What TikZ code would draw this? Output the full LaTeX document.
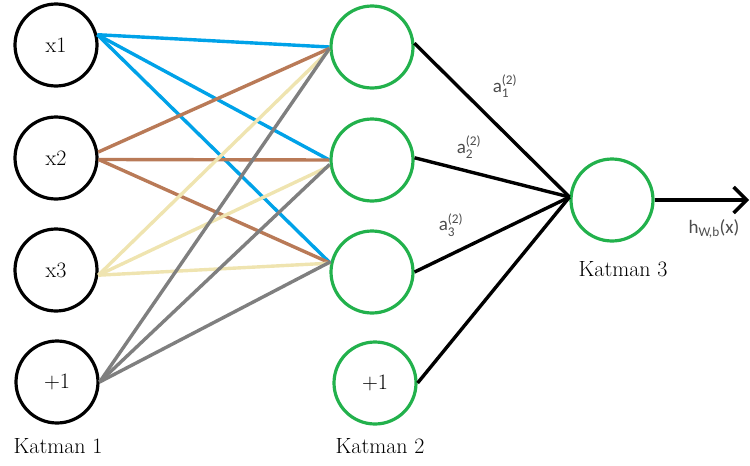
\documentclass[tikz,border=0pt]{standalone}
\usepackage{amsmath,fontspec}
\usetikzlibrary{arrows.meta}
\newfontfamily\calfont{Carlito}
\definecolor{paintblue}{HTML}{00A2E8}
\definecolor{paintbrown}{HTML}{B97A57}
\definecolor{paintcream}{HTML}{EFE4B0}
\definecolor{paintgray}{HTML}{7F7F7F}
\definecolor{paintgreen}{HTML}{22B14C}

\begin{document}
\begin{tikzpicture}[x=1pt,y=-1pt,
  innode/.style={circle,draw=black,line width=3.2pt,minimum size=82pt,inner sep=0pt,font=\fontsize{22}{26}\selectfont},
  hidnode/.style={innode,draw=paintgreen},
  lbl/.style={font=\fontsize{22}{26}\selectfont},
  alabel/.style={text=black!70,font=\calfont\fontsize{19}{22}\selectfont},
  wire/.style={line width=3.4pt}]
\path[use as bounding box] (0,0) rectangle (750,466);
% Katman 1
\node[innode] (x1) at (56,45) {x1};
\node[innode] (x2) at (56,158) {x2};
\node[innode] (x3) at (56,270) {x3};
\node[innode] (b1) at (57,382) {+1};
% Katman 2
\node[hidnode] (h1) at (372,47) {};
\node[hidnode] (h2) at (372,160) {};
\node[hidnode] (h3) at (372,272) {};
\node[hidnode] (b2) at (375,383) {+1};
% Katman 3
\node[hidnode] (o) at (612,200) {};
\coordinate (hx) at (749,200);

\node[lbl] (k1) at (58,446) {Katman 1};
\node[lbl] (k2) at (380,446) {Katman 2};
\node[lbl] (k3) at (623,269) {Katman 3};

% weights into the second layer
\draw[wire,paintblue] (x1.14)--(h1.west);
\draw[wire,paintblue] (x1.14)--(h2.west);
\draw[wire,paintblue] (x1.14)--(h3.168);
\draw[wire,paintbrown] (x2.8)--(h1.182);
\draw[wire,paintbrown] (x2.-2)--(h2.west);
\draw[wire,paintbrown] (x2.-2)--(h3.168);
\draw[wire,paintcream] (x3.-7)--(h1.184);
\draw[wire,paintcream] (x3.-7)--(h2.188);
\draw[wire,paintcream] (x3.-7)--(h3.168);
\draw[wire,paintgray] (b1.east)--(h1.182);
\draw[wire,paintgray] (b1.east)--(h2.186);
\draw[wire,paintgray] (b1.east)--(h3.166);

% second layer into the output
\draw[wire] (h1.5)--(o.176);
\draw[wire] (h2.3)--(o.176);
\draw[wire] (h3.east)--(o.176);
\draw[wire] (b2.east)--(o.176);
\draw[wire,-{Straight Barb[length=13pt,width=26pt]}] (o.east)--(hx);

\node[alabel] (a1) at (505,86) {a$^{\text{(2)}}_{\text{1}}$};
\node[alabel] (a2) at (469,147) {a$^{\text{(2)}}_{\text{2}}$};
\node[alabel] (a3) at (451,225) {a$^{\text{(2)}}_{\text{3}}$};
\node[alabel] (hwb) at (714,229) {h$_{\text{W,b}}$(x)};
\end{tikzpicture}
\end{document}
